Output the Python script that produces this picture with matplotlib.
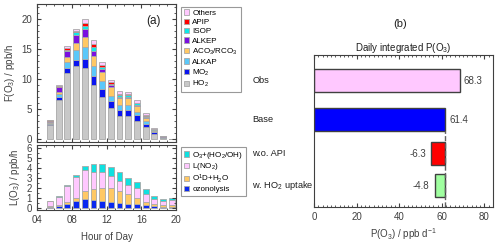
import numpy as np
import matplotlib
matplotlib.use("Agg")
import matplotlib.pyplot as plt
from matplotlib.ticker import MultipleLocator, FormatStrFormatter

plt.rcParams['font.family'] = ['Liberation Sans', 'DejaVu Sans']
plt.rcParams['mathtext.default'] = 'regular'
plt.rcParams['font.size'] = 7

# ---- data ----
hours = [5.5, 6.5, 7.5, 8.5, 9.5, 10.5, 11.5, 12.5, 13.5, 14.5, 15.5, 16.5, 17.5, 18.5, 19.5]

# production terms F(O3), bottom -> top
p_ho2 = [2.4, 6.5, 11.0, 12.1, 11.9, 9.05, 7.0, 5.2, 3.9, 3.9, 3.1, 2.05, 0.9, 0.2, 0.02]
p_mo2 = [0.2, 0.45, 0.8, 1.05, 1.4, 1.5, 1.4, 1.2, 1.0, 1.0, 0.85, 0.55, 0.25, 0.08, 0.01]
p_alkap = [0.15, 0.55, 1.1, 1.65, 2.05, 1.65, 1.35, 0.85, 0.8, 0.8, 0.65, 0.35, 0.15, 0.05, 0.01]
p_aco3 = [0.05, 0.3, 0.7, 1.15, 1.65, 1.65, 1.35, 1.4, 1.15, 1.1, 0.95, 0.55, 0.2, 0.05, 0.01]
p_alkep = [0.25, 0.8, 1.1, 1.4, 1.3, 0.85, 0.65, 0.3, 0.22, 0.25, 0.2, 0.15, 0.08, 0.08, 0.01]
p_isop = [0.03, 0.1, 0.2, 0.4, 0.55, 0.55, 0.3, 0.28, 0.22, 0.25, 0.2, 0.2, 0.07, 0.02, 0.0]
p_apip = [0.03, 0.1, 0.2, 0.3, 0.5, 0.55, 0.3, 0.28, 0.22, 0.2, 0.15, 0.1, 0.05, 0.02, 0.0]
p_others = [0.1, 0.2, 0.4, 0.35, 0.6, 0.65, 0.45, 0.4, 0.45, 0.4, 0.4, 0.35, 0.15, 0.08, 0.02]

# loss terms L(O3), bottom -> top
l_ozon = [0.15, 0.25, 0.45, 0.7, 0.9, 0.85, 0.7, 0.63, 0.55, 0.45, 0.4, 0.3, 0.2, 0.15, 0.15]
l_o1d = [0.05, 0.05, 0.15, 0.35, 0.78, 1.05, 1.27, 1.35, 1.15, 0.95, 0.65, 0.33, 0.22, 0.15, 0.2]
l_no2 = [0.5, 0.85, 1.65, 2.1, 2.17, 1.7, 1.6, 1.2, 1.0, 0.9, 0.95, 0.82, 0.48, 0.45, 0.5]
l_o3hox = [0.03, 0.05, 0.05, 0.2, 0.4, 0.85, 0.87, 0.92, 0.9, 0.75, 0.65, 0.43, 0.35, 0.2, 0.12]

# panel (b)
cases = ['Obs', 'Base', 'w.o. API', 'w. HO$_2$ uptake']
case_val = [68.3, 61.4, -6.3, -4.8]
base_val = 61.4

fig = plt.figure(figsize=(5.0, 2.48), dpi=100)

ax1 = fig.add_axes([0.074, 0.429, 0.278, 0.553])
ax2 = fig.add_axes([0.074, 0.153, 0.278, 0.262])
ax3 = fig.add_axes([0.628, 0.165, 0.358, 0.613])

edge = '#a8a8a8'
w = 0.68

prod = [(p_ho2, '#c8c8c8', 'HO$_2$'), (p_mo2, '#0a14f0', 'MO$_2$'),
        (p_alkap, '#5ac8fa', 'ALKAP'), (p_aco3, '#ffc864', 'ACO$_3$/RCO$_3$'),
        (p_alkep, '#7a10e0', 'ALKEP'), (p_isop, '#10e8e8', 'ISOP'),
        (p_apip, '#ff0000', 'APIP'), (p_others, '#ffc8ff', 'Others')]
bottom = np.zeros(len(hours))
for vals, col, lab in prod:
    ax1.bar(hours, vals, w, bottom=bottom, color=col, edgecolor=edge, lw=0.6, label=lab)
    bottom += np.array(vals)

loss = [(l_ozon, '#0a28f0', 'ozonolysis'), (l_o1d, '#ffc864', 'O$^1$D+H$_2$O'),
        (l_no2, '#ffc8ff', 'L(NO$_2$)'), (l_o3hox, '#10e0e0', 'O$_3$+(HO$_2$/OH)')]
bottom = np.zeros(len(hours))
for vals, col, lab in loss:
    ax2.bar(hours, vals, w, bottom=bottom, color=col, edgecolor=edge, lw=0.6, label=lab)
    bottom += np.array(vals)

for ax in (ax1, ax2):
    ax.set_xlim(4, 20)
    ax.xaxis.set_major_locator(MultipleLocator(4))
    ax.xaxis.set_minor_locator(MultipleLocator(1))
    ax.tick_params(which='both', direction='in', top=True, right=True,
                   colors='#404040', labelsize=7)
    ax.tick_params(which='major', length=3)
    ax.tick_params(which='minor', length=1.5)
    for s in ax.spines.values():
        s.set_color('#404040')

ax1.set_ylim(-0.4, 22.4)
ax1.yaxis.set_major_locator(MultipleLocator(5))
ax1.yaxis.set_minor_locator(MultipleLocator(1))
ax1.tick_params(labelbottom=False)
ax1.set_ylabel('F(O$_3$) / ppb/h', color='#404040', labelpad=3)
ax1.text(0.84, 0.88, '(a)', transform=ax1.transAxes, fontsize=8.5,
         ha='center', va='center', color='#202020')

ax2.set_ylim(-0.2, 6.3)
ax2.yaxis.set_major_locator(MultipleLocator(1))
ax2.yaxis.set_minor_locator(MultipleLocator(0.5))
ax2.xaxis.set_major_formatter(FormatStrFormatter('%02d'))
ax2.set_ylabel('L(O$_3$) / ppb/h', color='#404040', labelpad=3)
ax2.set_xlabel('Hour of Day', color='#404040', labelpad=5)

leg_kw = dict(fontsize=5.8, frameon=True, fancybox=False, edgecolor='#808080',
              handlelength=0.7, handleheight=0.7, handletextpad=0.35,
              borderpad=0.35, borderaxespad=0)
h, l = ax1.get_legend_handles_labels()
lg = ax1.legend(h[::-1], l[::-1], loc='upper left', bbox_to_anchor=(1.035, 0.985),
                labelspacing=0.2, **leg_kw)
lg.get_frame().set_linewidth(0.8)
h, l = ax2.get_legend_handles_labels()
lg = ax2.legend(h[::-1], l[::-1], loc='upper left', bbox_to_anchor=(1.035, 0.97),
                labelspacing=0.05, **leg_kw)
lg.get_frame().set_linewidth(0.8)

# ---- panel (b) ----
ypos = [0.83, 0.575, 0.35, 0.14]
bar_h = 0.15
lefts = [0, 0, base_val + case_val[2], base_val + case_val[3]]
widths = [case_val[0], case_val[1], -case_val[2], -case_val[3]]
cols = ['#ffc8ff', '#0000ff', '#ff0000', '#a0ffa0']
ax3.barh(ypos, widths, bar_h, left=lefts, color=cols, edgecolor='#404040', lw=1)
ax3.plot([base_val, base_val], [0, ypos[1] - bar_h / 2], ls='--', color='#606060', lw=1)
for i, (y, v) in enumerate(zip(ypos, case_val)):
    if v > 0:
        ax3.text(v + 2, y, f'{v:.1f}', ha='left', va='center', fontsize=7, color='#404040')
    else:
        ax3.text(lefts[i] - 2.5, y, f'{v:.1f}', ha='right', va='center', fontsize=7, color='#404040')
    ax3.text(-0.345, y, cases[i], transform=ax3.get_yaxis_transform(),
             ha='left', va='center', fontsize=6.7, color='#202020')

ax3.set_xlim(0, 84)
ax3.set_ylim(0, 1)
ax3.set_yticks([])
ax3.xaxis.set_major_locator(MultipleLocator(20))
ax3.xaxis.set_minor_locator(MultipleLocator(2))
ax3.tick_params(which='both', direction='in', top=True, colors='#404040', labelsize=7)
ax3.tick_params(which='major', length=3)
ax3.tick_params(which='minor', length=1.5)
for s in ax3.spines.values():
    s.set_color('#404040')
ax3.set_xlabel('P(O$_3$) / ppb d$^{-1}$', color='#404040', labelpad=3)
ax3.set_title('Daily integrated P(O$_3$)', fontsize=7, color='#202020', pad=3)
fig.text(0.80, 0.905, '(b)', fontsize=8, ha='center', va='center', color='#202020')

fig.savefig('out.png', dpi=100)
